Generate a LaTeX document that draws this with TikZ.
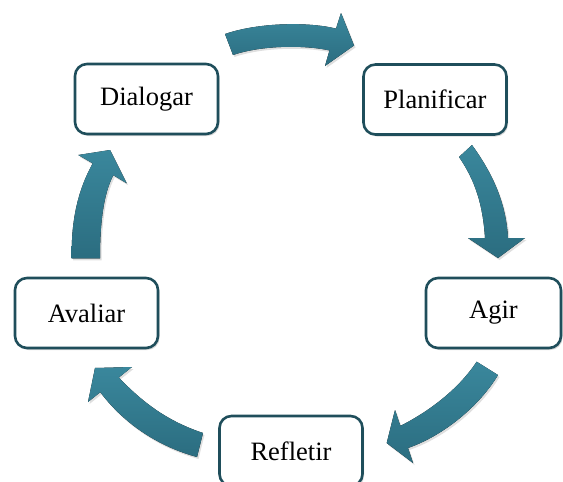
\documentclass[tikz,border=0pt]{standalone}
\usepackage{fontspec}
\setmainfont{Liberation Serif}
\usetikzlibrary{shadows}
\definecolor{boxline}{RGB}{31,78,91}
\definecolor{arrowlight}{RGB}{58,135,156}
\definecolor{arrowdark}{RGB}{43,109,128}
\begin{document}
\begin{tikzpicture}[x=1pt,y=-1pt,
  stepbox/.style={draw=boxline, line width=2.6pt, rounded corners=12pt, fill=white,
    minimum width=143pt, minimum height=70pt, inner sep=0pt,
    font=\fontsize{26.5}{30}\selectfont,
    drop shadow={shadow xshift=1.5pt, shadow yshift=-2pt, opacity=0.3}},
  cyclearrow/.style={top color=arrowlight, bottom color=arrowdark,
    drop shadow={shadow xshift=1.5pt, shadow yshift=-2pt, opacity=0.25}}]
\useasboundingbox (0,0) rectangle (563,482);
\clip (0,0) rectangle (563,482);

% the five stages
\node[stepbox] (dialogar)   at (146.5,99)  {Dialogar};
\node[stepbox] (planificar) at (435,99.5)  {Planificar};
\node[stepbox, minimum width=135pt] (agir) at (493.5,313) {Agir};
\node[stepbox] (refletir)   at (291,451)   {Refletir};
\node[stepbox] (avaliar)    at (86.5,313)  {Avaliar};

% curved block arrows between the stages
\fill[cyclearrow] (225,34) .. controls (260,22) and (310,22) .. (336,28.6)
  -- (341,13) -- (354,45.5) -- (325,66) -- (329.5,50.4)
  .. controls (305,45) and (262,45) .. (233,55) -- cycle;

\fill[cyclearrow] (472,145) .. controls (490,170) and (506,200) .. (508,238)
  -- (525,238) -- (498,258) -- (468,238) -- (485,238)
  .. controls (483,205) and (475,180) .. (459,157) -- cycle;

\fill[cyclearrow] (476.7,361.7) -- (498,375)
  .. controls (480,405) and (445,435) .. (408,448)
  -- (413,463) -- (386.7,443) -- (395,410) -- (400.4,425.9)
  .. controls (428,412) and (458,390) .. (476.7,361.7) -- cycle;

\fill[cyclearrow] (203,433) .. controls (170,422) and (145,405) .. (118.8,377.5)
  -- (132,367) -- (95,368) -- (88,402) -- (100.3,392.2)
  .. controls (125,425) and (160,447) .. (197,457) -- cycle;

\fill[cyclearrow] (71.7,258.3) .. controls (71,220) and (78,190) .. (92.7,163.4)
  -- (78.3,155) -- (110,150) -- (126.7,183.3) -- (113.3,175.2)
  .. controls (103,195) and (100,225) .. (100,258.3) -- cycle;
\end{tikzpicture}
\end{document}
